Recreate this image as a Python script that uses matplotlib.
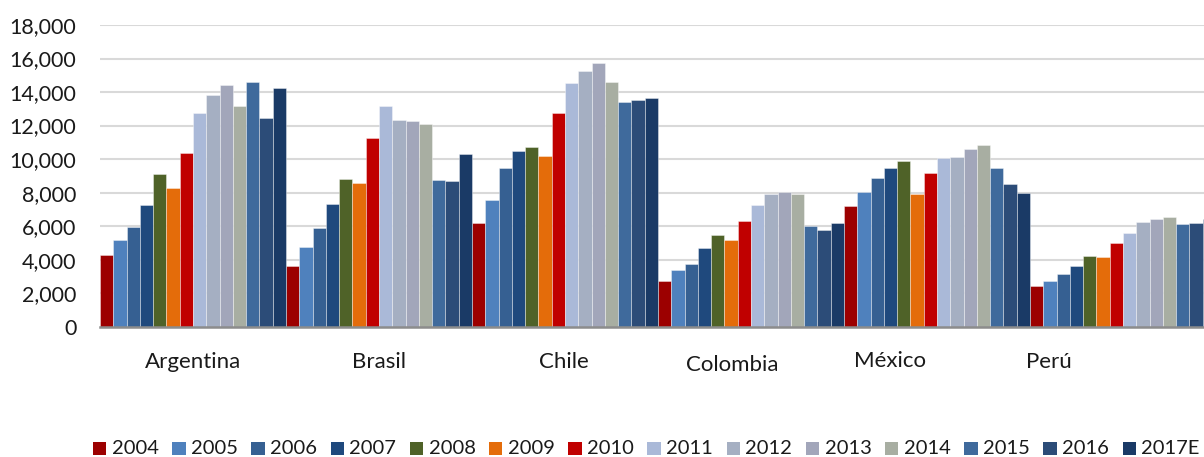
import matplotlib
matplotlib.use("Agg")
import matplotlib.pyplot as plt
import matplotlib.transforms as mtransforms
from matplotlib.patches import Rectangle
from matplotlib.ticker import FuncFormatter

plt.rcParams['font.family'] = ['Lato', 'DejaVu Sans']

countries = ["Argentina", "Brasil", "Chile", "Colombia", "México", "Perú"]
years = ["2004", "2005", "2006", "2007", "2008", "2009", "2010",
         "2011", "2012", "2013", "2014", "2015", "2016", "2017E"]

argentina = [4270, 5160, 5935, 7285, 9110, 8300, 10380, 12760, 13850, 14450, 13180, 14610, 12460, 14230]
brasil    = [3630, 4760, 5875, 7345, 8790, 8595, 11275, 13190, 12345, 12260, 12065, 8775, 8690, 10280]
chile     = [6175, 7585, 9445, 10460, 10715, 10180, 12760, 14565, 15280, 15755, 14605, 13435, 13535, 13630]
colombia  = [2720, 3375, 3715, 4700, 5460, 5180, 6290, 7245, 7920, 8035, 7920, 6010, 5775, 6190]
mexico    = [7225, 8060, 8895, 9465, 9865, 7900, 9150, 10085, 10100, 10620, 10815, 9490, 8535, 7960]
peru      = [2440, 2720, 3155, 3595, 4190, 4130, 4965, 5620, 6230, 6430, 6550, 6155, 6165, 6450]

series_by_country = [argentina, brasil, chile, colombia, mexico, peru]

colors = ["#9C0000", "#4F81BD", "#366092", "#1F497D", "#4F6228", "#E46C0A", "#C00000",
          "#AAB9D8", "#A5AFC2", "#A2A6BA", "#A8AEA2", "#3F6A9C", "#2C4C78", "#1A3A66"]

# horizontal positions of the category captions (in group units) and small vertical nudges (px)
label_x = [0.0, 1.0, 1.995, 2.90, 3.747, 4.60]
label_dy = [0, 0, 0, -3, 1, 0]

W, H, DPI = 1204, 457, 100
FS = 16
TXT = "#1a1a1a"
fig = plt.figure(figsize=(W / DPI, H / DPI), dpi=DPI)
left_px, right_px, top_px, bottom_px = 100, 1216, 25, 326.7
ax = fig.add_axes([left_px / W, 1 - bottom_px / H,
                   (right_px - left_px) / W, (bottom_px - top_px) / H])

n = len(years)
bw = 1.0 / n
for j, (yr, col) in enumerate(zip(years, colors)):
    xs = [i + (j - (n - 1) / 2) * bw for i in range(len(countries))]
    vals = [series_by_country[i][j] for i in range(len(countries))]
    ax.bar(xs, vals, width=bw, color=col, edgecolor=(1, 1, 1, 0.45),
           linewidth=0.6, zorder=3, label=yr)

ax.set_xlim(-0.5, len(countries) - 0.5)
ax.set_ylim(0, 18000)
ax.set_yticks(range(0, 18001, 2000))
ax.yaxis.set_major_formatter(FuncFormatter(lambda v, p: f"{int(v):,}"))
ax.tick_params(axis='y', length=0, pad=17, labelsize=15.5, labelcolor=TXT)
ax.grid(axis='y', color="#D9D9D9", linewidth=1.5, zorder=0)
ax.set_axisbelow(True)

for s in ["top", "right", "left"]:
    ax.spines[s].set_visible(False)
ax.spines["bottom"].set_color("#8C8C8C")
ax.spines["bottom"].set_linewidth(1.8)
ax.spines["bottom"].set_zorder(4)

ax.set_xticks(label_x)
ax.set_xticklabels(countries)
ax.tick_params(axis='x', length=0, pad=18, labelsize=FS, labelcolor=TXT)
for lbl, dy in zip(ax.get_xticklabels(), label_dy):
    lbl.set_transform(lbl.get_transform() +
                      mtransforms.ScaledTranslation(0, dy / DPI, fig.dpi_scale_trans))

# legend row along the bottom: square swatch followed by the year
leg_x0, leg_pitch, leg_y, sw = 93, 79.2, 448.3, 13.3
for k, (yr, col) in enumerate(zip(years, colors)):
    x = leg_x0 + k * leg_pitch
    fig.patches.append(Rectangle((x / W, 1 - (leg_y + sw / 2) / H), sw / W, sw / H,
                                 transform=fig.transFigure, facecolor=col,
                                 edgecolor='none'))
    fig.text((x + sw + 5.5) / W, 1 - leg_y / H, yr, fontsize=14.5, color=TXT,
             ha='left', va='center')

fig.savefig("out.png", dpi=DPI)
